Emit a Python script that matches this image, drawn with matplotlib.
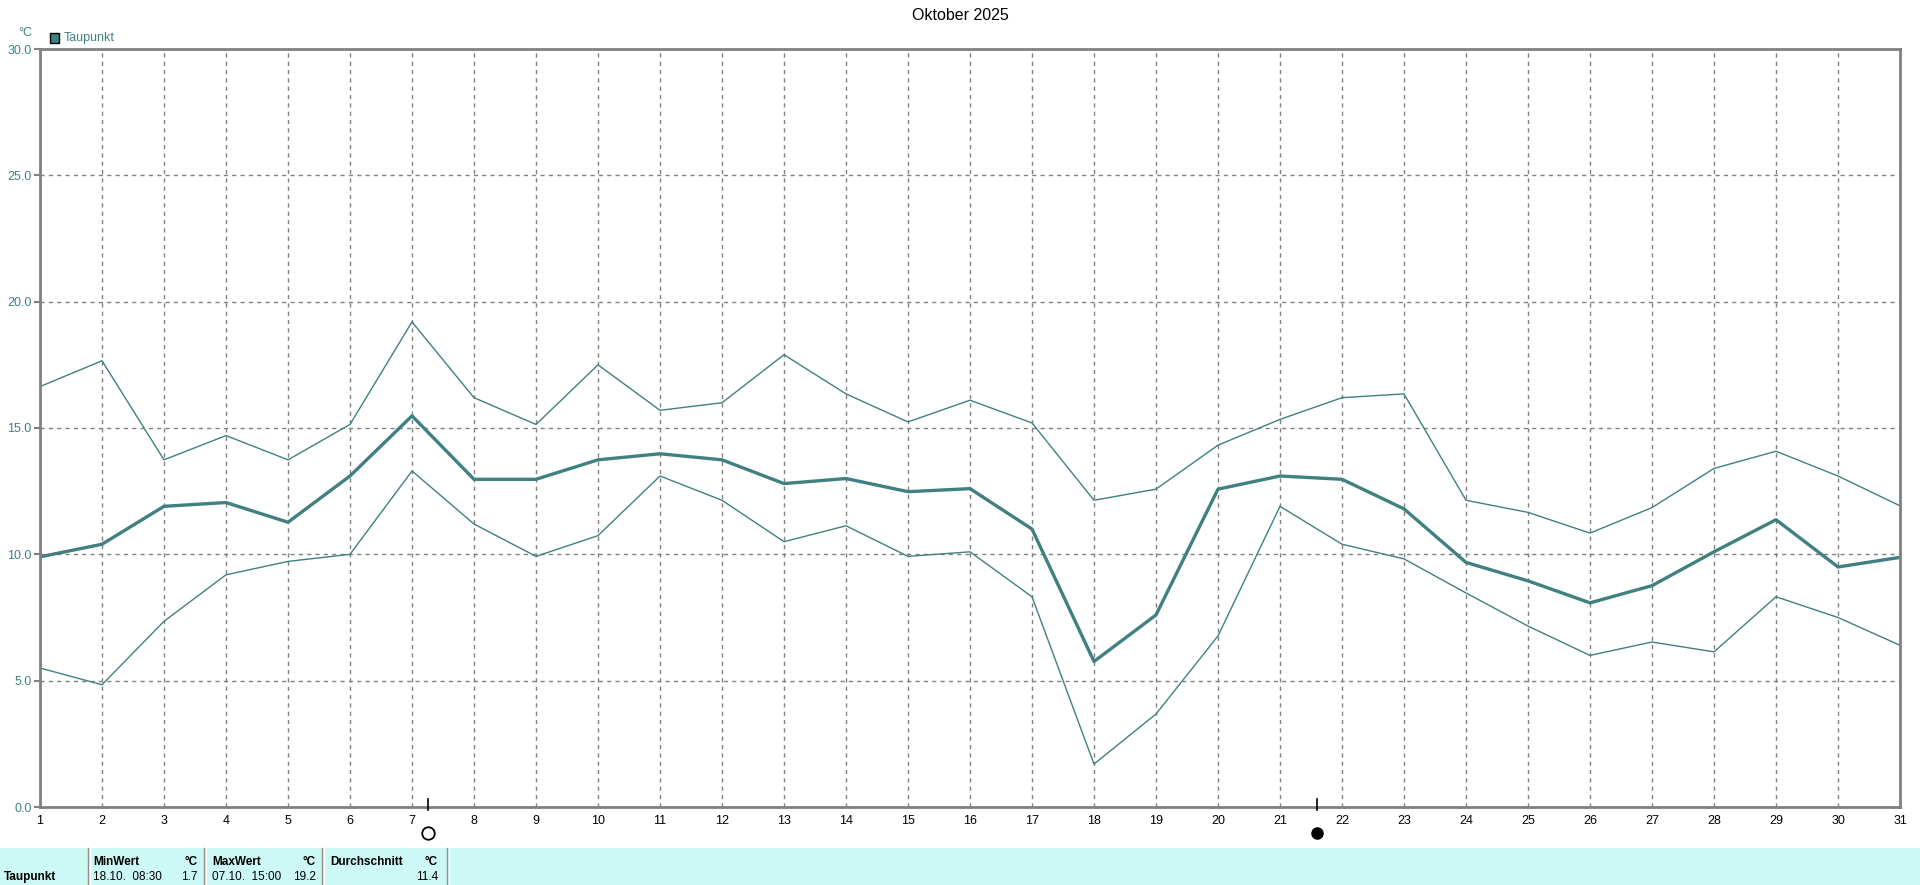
import matplotlib
matplotlib.use("Agg")
import matplotlib.pyplot as plt
from matplotlib.patches import Rectangle
from matplotlib.lines import Line2D

days = list(range(1, 32))
dew_mean = [9.9, 10.4, 11.9, 12.05, 11.27, 13.1, 15.48, 12.97, 12.97, 13.74, 13.98, 13.74, 12.8, 13.0,
            12.48, 12.6, 11.0, 5.76, 7.6, 12.58, 13.1, 12.97, 11.8, 9.68, 8.95, 8.08, 8.76, 10.1,
            11.37, 9.5, 9.88]
dew_max = [16.64, 17.66, 13.74, 14.7, 13.74, 15.14, 19.2, 16.2, 15.14, 17.5, 15.7, 16.0, 17.9, 16.35,
           15.24, 16.1, 15.2, 12.14, 12.58, 14.32, 15.34, 16.2, 16.35, 12.14, 11.66, 10.84, 11.85,
           13.4, 14.08, 13.1, 11.92]
dew_min = [5.5, 4.84, 7.35, 9.19, 9.72, 10.0, 13.3, 11.2, 9.92, 10.74, 13.1, 12.14, 10.5, 11.13,
           9.92, 10.1, 8.32, 1.7, 3.68, 6.77, 11.9, 10.4, 9.82, 8.47, 7.16, 6.0, 6.53, 6.14, 8.32,
           7.5, 6.4]
yticks = [0.0, 5.0, 10.0, 15.0, 20.0, 25.0, 30.0]
full_moon_day = 7.25
new_moon_day = 21.6

title = "Oktober 2025"
series_name = "Taupunkt"
unit = "°C"
tbl_min_date, tbl_min_val = "18.10.  08:30", "1.7"
tbl_max_date, tbl_max_val = "07.10.  15:00", "19.2"
tbl_avg_val = "11.4"

W, H = 1920, 885
TEAL = "#408080"
GRID = "#808080"
FONT = "Liberation Sans"

fig = plt.figure(figsize=(W / 100, H / 100), dpi=100)
fig.patch.set_facecolor("white")

def fx(px):
    return px / W

def fy(py):
    return 1 - py / H

left, right, top, bottom = 40, 1900, 49, 807
ax = fig.add_axes([fx(left), fy(bottom), fx(right) - fx(left), fy(top) - fy(bottom)])
ax.set_xlim(1, 31)
ax.set_ylim(0, 30)

ax.plot(days, dew_max, color=TEAL, lw=1.0, zorder=3)
ax.plot(days, dew_min, color=TEAL, lw=1.0, zorder=3)
ax.plot(days, dew_mean, color=TEAL, lw=2.4, zorder=4)

ax.set_xticks(days)
ax.set_xticklabels([str(d) for d in days], fontsize=9, color="black", family=FONT)
ax.set_yticks(yticks)
ax.set_yticklabels([f"{v:.1f}" for v in yticks], fontsize=9, color=TEAL, family=FONT)
ax.tick_params(axis="x", length=0, pad=6)
ax.tick_params(axis="y", length=4, width=1.5, color=GRID, pad=2)
ax.grid(True, color=GRID, linestyle=(0, (3, 3)), linewidth=1.0)
for s in ax.spines.values():
    s.set_color(GRID)
    s.set_linewidth(2.0)
    s.set_zorder(5)

# moon markers
trans = ax.get_xaxis_transform()
for d in (full_moon_day, new_moon_day):
    ax.add_line(Line2D([d, d], [-0.004, 0.011], transform=trans,
                       color="black", lw=1.2, clip_on=False, zorder=6))
ax.plot([full_moon_day], [-0.034], transform=trans, marker="o", ms=9, mfc="white",
        mec="black", mew=1.3, clip_on=False)
ax.plot([new_moon_day], [-0.034], transform=trans, marker="o", ms=8, mfc="black",
        mec="black", clip_on=False)

# title, unit, legend
fig.text(0.5, fy(15), title, ha="center", va="center", fontsize=11.5, color="black", family=FONT)
fig.text(fx(25), fy(33), unit, ha="center", va="center", fontsize=9, color=TEAL, family=FONT)
fig.patches.append(Rectangle((fx(50), fy(43)), fx(9), fy(33) - fy(43), transform=fig.transFigure,
                             facecolor=TEAL, edgecolor="black", lw=1.0))
fig.text(fx(64), fy(37.5), series_name, ha="left", va="center", fontsize=9, color=TEAL, family=FONT)

# bottom table
CYAN = "#ccf8f5"
fig.patches.append(Rectangle((0, 0), 1, fy(848), transform=fig.transFigure,
                             facecolor=CYAN, edgecolor="none"))
for xs in [88, 204, 322, 447]:
    fig.lines.append(Line2D([fx(xs), fx(xs)], [0, fy(848)], transform=fig.transFigure,
                            color="#909090", lw=1.0))
    fig.lines.append(Line2D([fx(xs + 1.5), fx(xs + 1.5)], [0, fy(848)], transform=fig.transFigure,
                            color="white", lw=1.0))
fs = 8.5
r1, r2 = fy(862), fy(877)
kw = dict(va="center", fontsize=fs, family=FONT)
fig.text(fx(4), r2, series_name, ha="left", fontweight="bold", **kw)
fig.text(fx(93), r1, "MinWert", ha="left", fontweight="bold", **kw)
fig.text(fx(198), r1, unit, ha="right", fontweight="bold", **kw)
fig.text(fx(93), r2, tbl_min_date, ha="left", **kw)
fig.text(fx(198), r2, tbl_min_val, ha="right", **kw)
fig.text(fx(212), r1, "MaxWert", ha="left", fontweight="bold", **kw)
fig.text(fx(316), r1, unit, ha="right", fontweight="bold", **kw)
fig.text(fx(212), r2, tbl_max_date, ha="left", **kw)
fig.text(fx(316), r2, tbl_max_val, ha="right", **kw)
fig.text(fx(330), r1, "Durchschnitt", ha="left", fontweight="bold", **kw)
fig.text(fx(438), r1, unit, ha="right", fontweight="bold", **kw)
fig.text(fx(438), r2, tbl_avg_val, ha="right", **kw)

fig.savefig("out.png", dpi=100, facecolor="white")
